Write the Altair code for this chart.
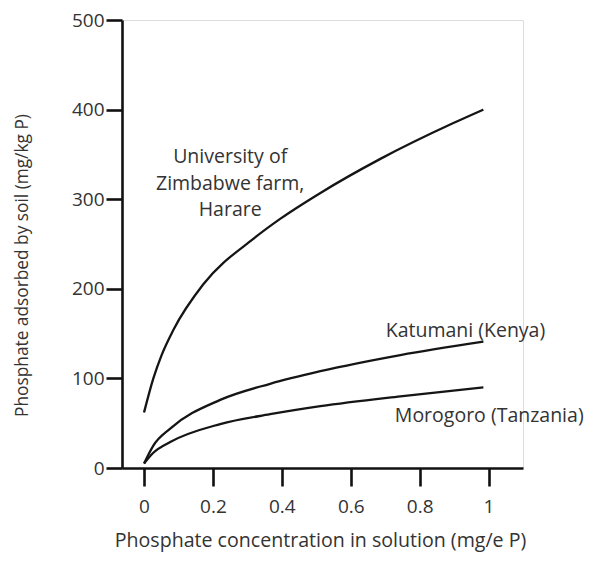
import altair as alt
import pandas as pd

# Curves
zim_x = [0.0, 0.027, 0.051, 0.085, 0.172, 0.318, 0.395, 0.512, 0.686, 0.898, 0.985]
zim_y = [62, 100, 126, 154, 205, 256, 278, 307, 345, 385, 400]

kat_x = [0.0, 0.027, 0.076, 0.221, 0.366, 0.512, 0.744, 0.985]
kat_y = [5, 25, 44, 76, 94, 108, 126, 141]

mor_x = [0.0, 0.027, 0.076, 0.221, 0.366, 0.512, 0.744, 0.985]
mor_y = [5, 17, 29, 49, 60, 69, 80, 90]

label_text = ["University of\nZimbabwe farm,\nHarare", "Katumani (Kenya)", "Morogoro (Tanzania)"]
label_x = [0.25, 0.933, 1.002]
label_y = [347, 153, 58]

x_ticks = [0, 0.2, 0.4, 0.6, 0.8, 1]
y_ticks = [0, 100, 200, 300, 400, 500]

rows = []
for name, xs, ys in [("Zimbabwe", zim_x, zim_y), ("Katumani", kat_x, kat_y), ("Morogoro", mor_x, mor_y)]:
    for i, (a, b) in enumerate(zip(xs, ys)):
        rows.append({"site": name, "x": a, "y": b, "order": i})
curves = pd.DataFrame(rows)
labels = pd.DataFrame({"text": label_text, "x": label_x, "y": label_y})

FONT = "Open Sans"
TXT = "#333333"

xscale = alt.Scale(domain=[-0.064, 1.10], nice=False, zero=False)
yscale = alt.Scale(domain=[0, 500], nice=False)

lines = alt.Chart(curves).mark_line(
    color="#151515", strokeWidth=2.3, interpolate="monotone", clip=False
).encode(
    x=alt.X("x:Q", scale=xscale,
            axis=alt.Axis(values=x_ticks, title="Phosphate concentration in solution (mg/e P)",
                          grid=False, domainColor="#111", domainWidth=2.6, tickColor="#111",
                          tickWidth=2.6, tickSize=18, labelPadding=11, labelFontSize=19,
                          labelFont=FONT, labelColor=TXT, labelFlush=False,
                          titleFont=FONT, titleFontSize=19.6, titleFontWeight="normal",
                          titleColor=TXT, titleX=198, titleY=72, titleBaseline="middle",
                          titleAlign="center", labelExpr="datum.value == 0 ? '0' : format(datum.value, '.1~f')")),
    y=alt.Y("y:Q", scale=yscale,
            axis=alt.Axis(values=y_ticks, title="Phosphate adsorbed by soil (mg/kg P)",
                          grid=False, domainColor="#111", domainWidth=2.6, tickColor="#111",
                          tickWidth=2.6, tickSize=16, labelPadding=2, labelFontSize=19,
                          labelFont=FONT, labelColor=TXT, labelFlush=False,
                          titleFont=FONT, titleFontSize=17.3, titleFontWeight="normal",
                          titleColor=TXT, titleX=-100, titleY=245, titleBaseline="middle",
                          titleAlign="center")),
    detail="site:N",
    order="order:Q",
)

text = alt.Chart(labels).mark_text(
    font=FONT, fontSize=19.5, color=TXT, align="center", baseline="middle",
    lineBreak="\n", lineHeight=26.5
).encode(
    x=alt.X("x:Q", scale=xscale),
    y=alt.Y("y:Q", scale=yscale),
    text="text:N",
)

chart = alt.layer(lines, text).properties(
    width=401, height=448,
    autosize=alt.AutoSizeParams(type="none"),
    padding={"left": 114, "top": 12, "right": 64, "bottom": 85},
).configure_view(stroke=None).configure(background="white")

chart.save("out.html", embed_options={"renderer": "svg", "actions": False})
